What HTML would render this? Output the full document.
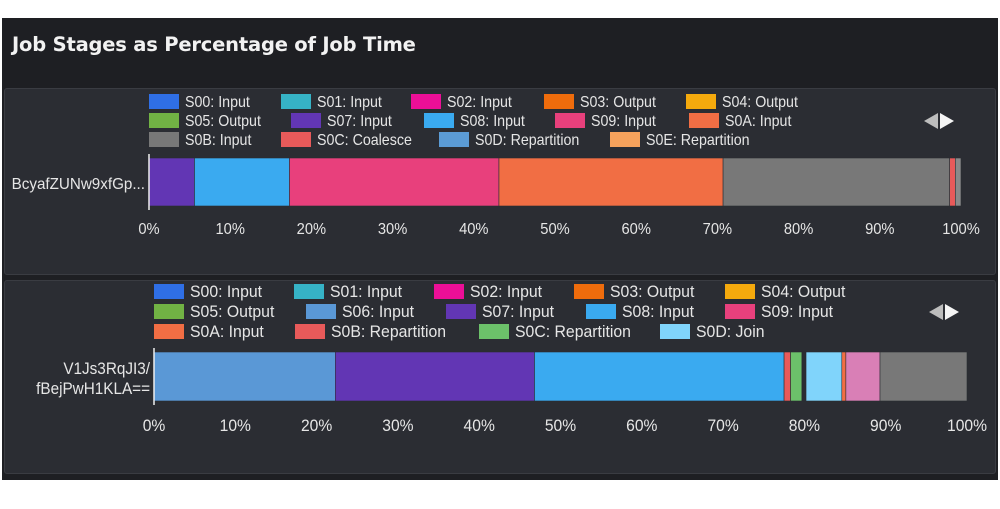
<!DOCTYPE html>
<html><head><meta charset="utf-8">
<style>
body{margin:0;width:1000px;height:509px;background:#fff;overflow:hidden;font-family:"Liberation Sans","DejaVu Sans",sans-serif}
#outer{position:absolute;left:2px;top:18px;width:996px;height:462px;background:#1e1f23}
#title{position:absolute;left:12px;top:33px;color:#f2f2f2;font:bold 19.5px "DejaVu Sans","Liberation Sans",sans-serif;letter-spacing:-0.2px}
.panel{position:absolute;left:4px;width:990px;background:#2b2d33;border:1px solid #3a3c42;border-radius:3px}
svg{position:absolute;left:0;top:0}
text{font-family:"Liberation Sans",sans-serif;fill:#e6e6e6}
</style></head><body>
<div id="outer"></div>
<div id="title">Job Stages as Percentage of Job Time</div>
<div class="panel" style="top:88px;height:185px"></div>
<div class="panel" style="top:280px;height:192px"></div>
<svg id="svg" width="1000" height="509"></svg>
<script>
// Top chart data
const topLegend = ["S00: Input","S01: Input","S02: Input","S03: Output","S04: Output","S05: Output","S07: Input","S08: Input","S09: Input","S0A: Input","S0B: Input","S0C: Coalesce","S0D: Repartition","S0E: Repartition"];
const topLegendColors = ["#2f6fe6","#36b3c6","#ec0f97","#ef6c0c","#f5aa0d","#71b244","#6236b4","#3aaaf0","#e8407c","#f16e44","#787878","#e85a5a","#5b9bd5","#f6a25c"];
const topCategory = ["BcyafZUNw9xfGp..."];
const topSegLabels = ["S07","S08","S09","S0A","S0B","S0C","S0D"];
const topSegValues = [5.6,11.7,25.8,27.6,27.9,0.7,0.7];
const topSegColors = ["#6236b4","#3aaaf0","#e8407c","#f16e44","#787878","#e85a5a","#8a8a8a"];
// Bottom chart data
const botLegend = ["S00: Input","S01: Input","S02: Input","S03: Output","S04: Output","S05: Output","S06: Input","S07: Input","S08: Input","S09: Input","S0A: Input","S0B: Repartition","S0C: Repartition","S0D: Join"];
const botLegendColors = ["#2f6fe6","#36b3c6","#ec0f97","#ef6c0c","#f5aa0d","#71b244","#5a98d6","#6236b4","#3aaaf0","#e8407c","#f16e44","#e85a5a","#6cc16a","#80d4fb"];
const botCategory = ["V1Js3RqJI3/","fBejPwH1KLA=="];
const botSegLabels = ["S06","S07","S08","S0B","S0C","S0x","S0D","S0A","S0E","S0F"];
const botSegValues = [22.3,24.5,30.7,0.8,1.4,0.5,4.4,0.5,4.2,10.7];
const botSegColors = ["#5a98d6","#6236b4","#3aaaf0","#e85a5a","#6cc16a","#2b2d33","#80d4fb","#f16e44","#d97fb6","#787878"];
const ticks = ["0%","10%","20%","30%","40%","50%","60%","70%","80%","90%","100%"];

// legend layout (positions per row)
const topLegLayout = [[149,281,411,544,686],[149,291,424,555,689],[149,281,439,610]];
const botLegLayout = [[154,294,434,574,725],[154,306,446,586,725],[154,295,479,660]];

const svg = document.getElementById('svg');
const NS = "http://www.w3.org/2000/svg";
function mk(tag, attrs){const e=document.createElementNS(NS,tag);for(const k in attrs)e.setAttribute(k,attrs[k]);svg.appendChild(e);return e;}
function txt(x,y,fs,sx,anchor){return mk('text',{x:0,y:0,'font-size':fs,'text-anchor':anchor,transform:`translate(${x},${y}) scale(${sx},1)`});}

function drawChart(cfg){
  const xs = v => cfg.x0 + (cfg.x1-cfg.x0)*v/100;
  cfg.legend.forEach((lab,i)=>{
    const r=Math.floor(i/5), c=i%5;
    const lx=cfg.legLayout[r][c], ly=cfg.legY0+r*cfg.legDy;
    const sw=mk('rect',{x:lx,y:ly-7,width:30,height:15,fill:cfg.legColors[i]});
    
    
    const t=txt(lx+36,ly+6,cfg.fs,cfg.sx,'start');
    t.textContent=lab;
    
    
  });
  const la=mk('polygon',{points:`${cfg.arX},${cfg.arY} ${cfg.arX+14},${cfg.arY-8} ${cfg.arX+14},${cfg.arY+8}`,fill:'#bdbdbd'});
  
  
  const ra=mk('polygon',{points:`${cfg.arX+30},${cfg.arY} ${cfg.arX+16},${cfg.arY-8} ${cfg.arX+16},${cfg.arY+8}`,fill:'#f5f5f5'});
  
  
  let acc=0;
  cfg.values.forEach((v,i)=>{
    const b=mk('rect',{x:xs(acc),y:cfg.barY,width:xs(acc+v)-xs(acc),height:cfg.barH,fill:cfg.colors[i],stroke:'#2b2d33','stroke-width':0.6});
    
    
    acc+=v;
  });
  const ax=mk('line',{x1:cfg.x0,x2:cfg.x0,y1:cfg.barY-4,y2:cfg.barY+cfg.barH+4,stroke:'#eee','stroke-width':1.5});
  
  
  cfg.category.forEach((c,i)=>{
    const t=txt(cfg.x0-4,cfg.catY+i*20,cfg.fs,cfg.catSx,'end');
    t.textContent=c;
    
    
  });
  ticks.forEach((tk,i)=>{
    const t=txt(xs(i*10),cfg.tickY,cfg.fs,cfg.tickSx,'middle');
    t.textContent=tk;
    
    
  });
}
drawChart({prefix:'top',x0:149,x1:961,legend:topLegend,legColors:topLegendColors,legLayout:topLegLayout,legY0:101,legDy:19,fs:16,sx:0.89,catSx:0.95,tickSx:0.92,
  arX:924,arY:121,values:topSegValues,colors:topSegColors,segLabels:topSegLabels,barY:158,barH:48,category:topCategory,catY:189,tickY:234});
drawChart({prefix:'bottom',x0:154,x1:967,legend:botLegend,legColors:botLegendColors,legLayout:botLegLayout,legY0:291,legDy:20,fs:17,sx:0.93,catSx:0.9,tickSx:0.92,
  arX:929,arY:312,values:botSegValues,colors:botSegColors,segLabels:botSegLabels,barY:352,barH:49,category:botCategory,catY:374,tickY:431});
</script>
</body></html>
